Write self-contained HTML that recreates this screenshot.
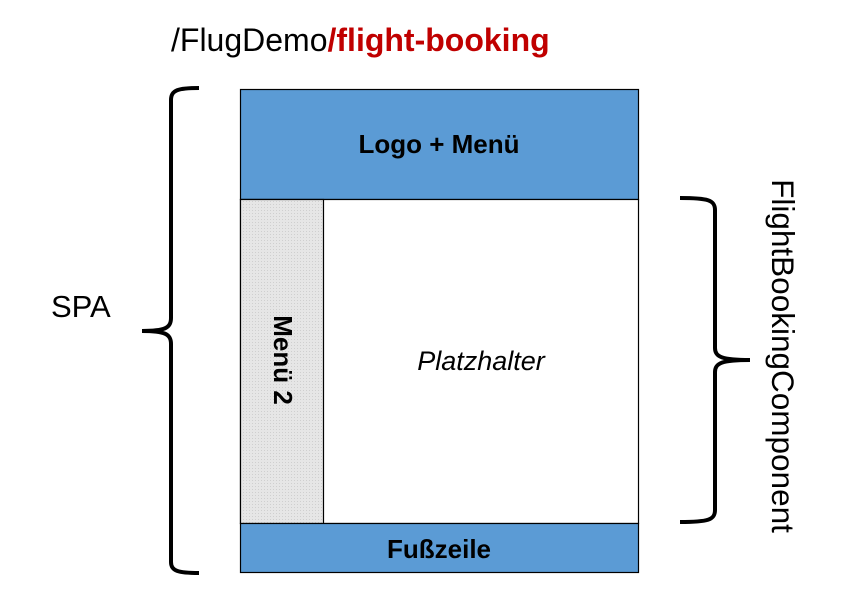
<!DOCTYPE html>
<html><head><meta charset="utf-8"><style>
body{margin:0;width:846px;height:606px;background:#fff;overflow:hidden;font-family:"Liberation Sans",Arial,sans-serif;}
</style></head><body>
<svg width="846" height="606" viewBox="0 0 846 606" xmlns="http://www.w3.org/2000/svg" font-family="Liberation Sans, Arial, sans-serif">
<defs>
<pattern id="hatch" width="3" height="3" patternUnits="userSpaceOnUse">
<rect width="3" height="3" fill="#e6e6e6"/><rect width="1" height="1" fill="#cfcfcf"/>
</pattern>
</defs>
<text x="171" y="51" font-size="32" fill="#000">/FlugDemo<tspan fill="#c00000" font-weight="bold">/flight-booking</tspan></text>
<rect x="240.5" y="89.5" width="398" height="110" fill="#5b9bd5" stroke="#000" stroke-width="1.2"/>
<text x="439" y="153" font-size="26" font-weight="bold" text-anchor="middle">Logo + Menü</text>
<rect x="240.5" y="199.5" width="398" height="324" fill="#fff" stroke="#000" stroke-width="1.2"/>
<rect x="240.5" y="199.5" width="83" height="324" fill="url(#hatch)" stroke="#000" stroke-width="1.2"/>
<text transform="translate(274,360) rotate(90)" font-size="26" font-weight="bold" text-anchor="middle">Menü 2</text>
<text x="481" y="370" font-size="27" font-style="italic" text-anchor="middle">Platzhalter</text>
<rect x="240.5" y="523.5" width="398" height="49" fill="#5b9bd5" stroke="#000" stroke-width="1.2"/>
<text x="439" y="558" font-size="26" font-weight="bold" text-anchor="middle">Fußzeile</text>
<path d="M199 88 C178 88 171 90 171 100 L171 318 C171 328 165 331 142 331 C165 331 171 334 171 344 L171 562 C171 571 178 573 199 573" fill="none" stroke="#000" stroke-width="4"/>
<text x="51" y="317" font-size="31">SPA</text>
<path d="M680 198 C708 198 715 200 715 210 L715 348 C715 357 722 360 750 360 C722 360 715 363 715 372 L715 510 C715 520 708 522 680 522" fill="none" stroke="#000" stroke-width="4"/>
<text transform="translate(772,356) rotate(90)" font-size="31.5" text-anchor="middle">FlightBookingComponent</text>
</svg>
</body></html>
